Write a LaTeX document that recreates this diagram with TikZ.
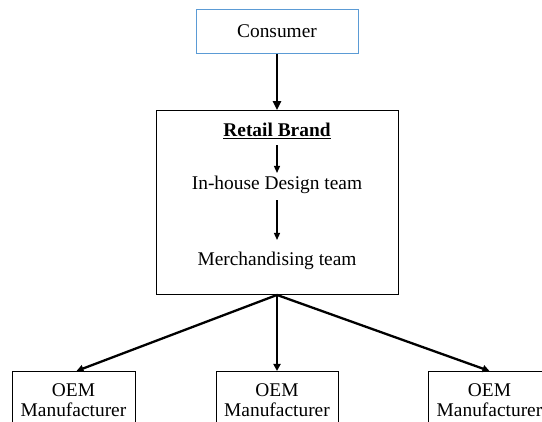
\documentclass[tikz,border=0pt]{standalone}
\usepackage{fontspec}
\setmainfont{Liberation Serif}
\usetikzlibrary{arrows.meta,positioning}
\definecolor{consumerblue}{HTML}{5B9BD5}

\tikzset{
  box/.style={draw=black,line width=0.9pt,inner sep=0pt,fill=white},
  label/.style={inner sep=0pt,align=center},
  bigarrow/.style={-{Triangle[width=8pt,length=9pt]},line width=2.6pt},
  smallarrow/.style={-{Triangle[width=6pt,length=7pt]},line width=1.3pt},
  fanarrow/.style={-{Triangle[width=7pt,length=7pt]},line width=2.3pt},
}

\begin{document}
\begin{tikzpicture}[x=1pt,y=-1pt,font=\fontsize{19.4}{20}\selectfont]
  \useasboundingbox (0,0) rectangle (542,422);
  \clip (0,0) rectangle (542,422);

  % top: consumer
  \node[box,draw=consumerblue,minimum width=162pt,minimum height=44pt]
    (consumer) at (277,31.5) {Consumer};

  % retail brand frame and its contents
  \node[box,minimum width=242pt,minimum height=184pt] (retail) at (277,202.5) {};
  \node[label] (brand) at (277,131) {\underline{\textbf{Retail Brand}}};
  \node[label] (design) at (277,185) {In-house Design team};
  \node[label] (merch) at (277,261) {Merchandising team};

  % bottom: manufacturers (cut off at the lower edge)
  \node[box,minimum width=123pt,minimum height=62pt,anchor=north] (oemleft) at (73.5,371) {};
  \node[box,minimum width=122pt,minimum height=62pt,anchor=north] (oemmid) at (277,371) {};
  \node[box,minimum width=123pt,minimum height=62pt,anchor=north] (oemright) at (489.5,371) {};
  \foreach \n in {oemleft,oemmid,oemright}
    \node[label,anchor=north] at ([yshift=-12pt]\n.north) {OEM\\Manufacturer};

  \draw[bigarrow] (consumer.south) -- (retail.north);
  \draw[smallarrow,shorten <=6pt,shorten >=3pt] (brand.south) -- (design.north);
  \draw[smallarrow,shorten <=6pt,shorten >=12pt] (design.south) -- (merch.north);
  \draw[fanarrow] (retail.south) -- ([xshift=3pt]oemleft.north);
  \draw[fanarrow] (retail.south) -- (oemmid.north);
  \draw[fanarrow] (retail.south) -- (oemright.north);
\end{tikzpicture}
\end{document}
